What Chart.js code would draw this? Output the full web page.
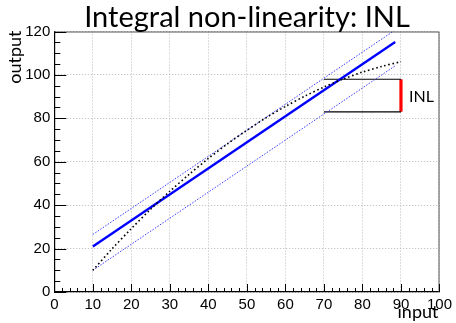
<!DOCTYPE html>
<html>
<head>
<meta charset="utf-8">
<script src="https://cdn.jsdelivr.net/npm/chart.js@4/dist/chart.umd.min.js"></script>
<style>
  html, body { margin: 0; padding: 0; background: #fff; }
  #wrap { width: 456px; height: 323px; }
</style>
</head>
<body>
<div id="wrap"><canvas id="c" width="456" height="323"></canvas></div>
<script>
// measured transfer curve (input -> output)
const inputValues  = [10, 15, 20, 25, 30, 35, 40, 45, 50, 55, 60, 65, 70, 75, 80, 85, 90];
const outputValues = [10, 19.9, 29.2, 38.1, 46.4, 54.2, 61.5, 68.3, 74.5, 80.3, 85.5, 90.2, 94.4, 98.1, 101.3, 103.9, 106.1];

// straight-line fit and the two parallel envelope lines
const fitX      = [10, 88.5];
const fitY      = [21, 115.2];
const upperY    = [26.5, 120.7];
const lowerY    = [10, 104.2];

// INL marker: horizontal bounds and the vertical span
const inlX      = [70, 90];
const inlTop    = 98;
const inlBottom = 83;

const xTickValues = [0, 10, 20, 30, 40, 50, 60, 70, 80, 90, 100];
const yTickValues = [0, 20, 40, 60, 80, 100, 120];

const pts = (xs, ys) => xs.map((x, i) => ({ x: x, y: ys[i] }));

const FONT = '"Liberation Sans", Arial, Helvetica, sans-serif';
const TEXT = 'Lato, "Open Sans", sans-serif';

// inward ticks, frame and texts drawn on top of the plot
const decorations = {
  id: 'decorations',
  afterDraw(chart) {
    const { ctx, chartArea: a, scales: { x, y } } = chart;
    ctx.save();
    // frame top and right
    ctx.strokeStyle = '#555';
    ctx.lineWidth = 1;
    ctx.beginPath();
    ctx.moveTo(a.left, a.top + 0.5);
    ctx.lineTo(a.right - 0.5, a.top + 0.5);
    ctx.lineTo(a.right - 0.5, a.bottom);
    ctx.stroke();

    // ticks
    ctx.strokeStyle = '#000';
    ctx.beginPath();
    for (let v = 0; v <= 100; v += 2) {
      const px = Math.round(x.getPixelForValue(v)) + 0.5;
      const len = v % 10 === 0 ? 8 : 4;
      ctx.moveTo(px, a.bottom);
      ctx.lineTo(px, a.bottom - len);
    }
    for (let v = 0; v <= 120; v += 5) {
      const py = Math.round(y.getPixelForValue(v)) + 0.5;
      const len = v % 20 === 0 ? 12 : 6;
      ctx.moveTo(a.left, py);
      ctx.lineTo(a.left + len, py);
    }
    ctx.stroke();

    // title
    ctx.fillStyle = '#000';
    ctx.font = '400 29px ' + TEXT;
    ctx.textAlign = 'center';
    ctx.textBaseline = 'alphabetic';
    ctx.fillText('Integral non-linearity: INL', 247, 27);

    // axis titles
    ctx.font = '400 18px ' + TEXT;
    ctx.textAlign = 'right';
    ctx.fillText('input', a.right - 1, 318);
    ctx.save();
    ctx.translate(21, a.top - 1);
    ctx.rotate(-Math.PI / 2);
    ctx.textAlign = 'right';
    ctx.fillText('output', 0, 0);
    ctx.restore();

    // INL label next to the red span
    ctx.font = '400 16px ' + TEXT;
    ctx.textAlign = 'left';
    const midY = y.getPixelForValue((inlTop + inlBottom) / 2);
    ctx.textBaseline = 'middle';
    ctx.fillText('INL', x.getPixelForValue(inlX[1]) + 8, midY + 1);
    ctx.restore();
  }
};

new Chart(document.getElementById('c'), {
  type: 'scatter',
  data: {
    datasets: [
      {
        data: pts(inputValues, outputValues),
        showLine: true, borderColor: '#000', borderWidth: 1.6,
        borderDash: [1.6, 2.6], pointRadius: 0, tension: 0.3
      },
      {
        data: pts(fitX, upperY),
        showLine: true, borderColor: '#3a3aff', borderWidth: 1,
        borderDash: [1.5, 1.5], pointRadius: 0
      },
      {
        data: pts(fitX, lowerY),
        showLine: true, borderColor: '#3a3aff', borderWidth: 1,
        borderDash: [1.5, 1.5], pointRadius: 0
      },
      {
        data: pts(fitX, fitY),
        showLine: true, borderColor: '#0000ff', borderWidth: 2.4,
        pointRadius: 0
      },
      {
        data: pts(inlX, [inlTop, inlTop]),
        showLine: true, borderColor: '#000', borderWidth: 1.2, pointRadius: 0
      },
      {
        data: pts(inlX, [inlBottom, inlBottom]),
        showLine: true, borderColor: '#000', borderWidth: 1.2, pointRadius: 0
      },
      {
        data: pts([inlX[1], inlX[1]], [inlBottom, inlTop]),
        showLine: true, borderColor: '#ff0000', borderWidth: 3.2, pointRadius: 0
      }
    ]
  },
  options: {
    responsive: false,
    animation: false,
    events: [],
    layout: { padding: { left: 0, right: 13, top: 31.5, bottom: 0 } },
    plugins: { legend: { display: false }, tooltip: { enabled: false }, title: { display: false } },
    scales: {
      x: {
        type: 'linear', min: 0, max: 100,
        afterFit(s) { s.height = 31; },
        afterBuildTicks(s) { s.ticks = xTickValues.map(v => ({ value: v })); },
        grid: { color: '#b8b8b8', lineWidth: 1, drawTicks: false },
        border: { color: '#000', width: 1.2, dash: [1, 2] },
        ticks: { color: '#000', font: { family: FONT, size: 15 }, padding: 4, maxRotation: 0, autoSkip: false }
      },
      y: {
        type: 'linear', min: 0, max: 120,
        afterFit(s) { s.width = 54.3; },
        afterBuildTicks(s) { s.ticks = yTickValues.map(v => ({ value: v })); },
        grid: { color: '#b8b8b8', lineWidth: 1, drawTicks: false },
        border: { color: '#000', width: 1.2, dash: [1, 2] },
        ticks: { color: '#000', font: { family: FONT, size: 15 }, padding: 4, autoSkip: false }
      }
    }
  },
  plugins: [decorations]
});
</script>
</body>
</html>
